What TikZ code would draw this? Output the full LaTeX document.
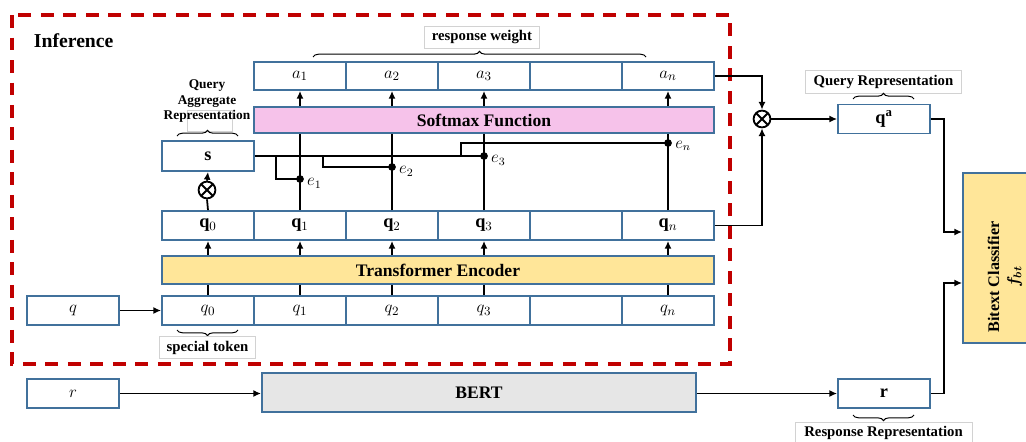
\documentclass[tikz,border=0pt]{standalone}
\usepackage{fontspec}
\setmainfont{Liberation Serif}
\usepackage{bm}
\usetikzlibrary{arrows.meta,decorations.pathreplacing}

\definecolor{cellblue}{HTML}{41719C}
\definecolor{softpink}{HTML}{F6C2EA}
\definecolor{encyellow}{HTML}{FFE699}
\definecolor{bertgray}{HTML}{E6E6E6}
\definecolor{dashred}{HTML}{C00000}

\tikzset{
  cell/.style={draw=cellblue, line width=1.3pt, fill=white, minimum width=2.3cm,
    minimum height=0.725cm, inner sep=0pt, font=\fontsize{13}{15}\selectfont},
  bar/.style={draw=cellblue, line width=1.3pt, inner sep=0pt,
    font=\fontsize{12.5}{15}\selectfont\bfseries},
  wire/.style={line width=1.25pt},
  arr/.style={wire, -{Latex[length=5.5pt,width=5pt]}},
  tag/.style={draw=gray!35, line width=0.6pt, inner sep=0pt,
    font=\fontsize{10.5}{12}\selectfont\bfseries},
  brc/.style={decorate, decoration={brace, amplitude=4pt}, line width=0.7pt},
  dot/.style={circle, fill=black, inner sep=0pt, minimum size=5.5pt},
  elabel/.style={anchor=west, inner sep=1pt, font=\fontsize{12}{14}\selectfont},
  otimes/.style={circle, draw, line width=1.3pt, minimum size=0.42cm, inner sep=0pt,
    path picture={\draw[line width=1.3pt]
      (path picture bounding box.south east) -- (path picture bounding box.north west)
      (path picture bounding box.south west) -- (path picture bounding box.north east);}}
}

\begin{document}
\begin{tikzpicture}[x=0.025cm, y=-0.025cm]
\useasboundingbox (0,0) rectangle (1026,441);

% inference frame
\draw[dashred, line width=2.3pt, dash pattern=on 9pt off 7pt] (12,15) rectangle (730,364);
\node[anchor=west, font=\fontsize{14}{16}\selectfont\bfseries] (inf) at (29,41) {Inference};

% token rows
\foreach \i/\x/\t in {0/208/$q_0$,1/300/$q_1$,2/392/$q_2$,3/484/$q_3$,4/576/{},5/668/$q_n$}
    \node[cell] (qi\i) at (\x,310.5) {\t};
\foreach \i/\x/\t in {0/208/$\mathbf{q}_0$,1/300/$\mathbf{q}_1$,2/392/$\mathbf{q}_2$,3/484/$\mathbf{q}_3$,4/576/{},5/668/$\mathbf{q}_n$}
    \node[cell] (qb\i) at (\x,225.5) {\t};
\foreach \i/\x/\t in {1/300/$a_1$,2/392/$a_2$,3/484/$a_3$,4/576/{},5/668/$a_n$}
    \node[cell, minimum height=0.7cm] (a\i) at (\x,76) {\t};

\node[bar, fill=encyellow, minimum width=13.8cm, minimum height=0.7cm] (enc) at (438,270) {Transformer Encoder};
\node[bar, fill=softpink, minimum width=11.5cm, minimum height=0.65cm] (soft) at (484,120) {Softmax Function};
\node[cell, minimum height=0.75cm] (s) at (208,156) {$\mathbf{s}$};
\node[otimes] (ot1) at (207,190) {};

\node[cell] (q) at (73,310.5) {$q$};
\node[cell] (r) at (73,393.5) {$r$};
\node[bar, fill=bertgray, minimum width=10.85cm, minimum height=0.975cm] (bert) at (479,392.5) {BERT};

\node[otimes] (ot2) at (762,119) {};
\node[cell] (qa) at (884,119) {$\mathbf{q}^{\mathbf{a}}$};
\node[cell] (rb) at (884,393.5) {$\mathbf{r}$};
\node[draw=cellblue, line width=1.3pt, fill=encyellow, minimum width=2.1cm,
    minimum height=4.25cm] (clf) at (1005,258) {};
\node[rotate=90, align=center, font=\fontsize{11.5}{14}\selectfont\bfseries] (clftext)
    at (1005,277) {Bitext Classifier\\$\bm{f_{bt}}$};

% labels with braces
\node[tag, minimum width=2.875cm, minimum height=0.55cm] (rw) at (482,37.5) {response weight};
\draw[brc] (313,57) -- (646,57);
\draw[gray!35, line width=0.6pt] (187,110) rectangle (232,131);
\node[align=center, font=\fontsize{9.5}{11.3}\selectfont\bfseries] (qar) at (207,101)
    {Query\\Aggregate\\Representation};
\draw[brc] (177,136) -- (238,136);
\draw[brc] (238,330) -- (177,330);
\node[tag, minimum width=2.4cm, minimum height=0.55cm] (st) at (207.5,347.5) {special token};
\node[tag, minimum width=3.9cm, minimum height=0.575cm] (qrep) at (883.5,81.5) {Query Representation};
\draw[brc] (853,99) -- (914,99);
\draw[brc] (914,415) -- (853,415);
\node[tag, minimum width=4.425cm, minimum height=0.55cm] (rrep) at (883.5,433) {Response Representation};

% encoder connections
\foreach \i in {0,1,2,3,5} {
    \draw[wire] (qi\i.north) -- (qi\i.north |- enc.south);
    \draw[arr] (qb\i.south |- enc.north) -- (qb\i.south);
}
\draw[wire] (qb0.north) -- (ot1.south);
\draw[arr] (ot1.north) -- (s.south);
\foreach \i in {1,2,3,5} {
    \draw[wire] (qb\i.north) -- (qb\i.north |- soft.south);
    \draw[arr] (a\i.south |- soft.north) -- (a\i.south);
}

% aggregate wiring
\node[dot] (e1) at (300,179) {};
\node[dot] (e2) at (392,167) {};
\node[dot] (e3) at (484,156) {};
\node[dot] (en) at (668,143) {};
\coordinate (b1) at (276,156);
\coordinate (b2) at (323,156);
\coordinate (b4) at (461,156);
\draw[wire] (s.east) -- (e3.center);
\draw[wire] (b1) |- (e1.center);
\draw[wire] (b2) |- (e2.center);
\draw[wire] (b4) |- (en.center);
\node[elabel] at ([xshift=1pt,yshift=-3pt]e1.east) {$e_1$};
\node[elabel] at ([xshift=1pt,yshift=-3pt]e2.east) {$e_2$};
\node[elabel] at ([xshift=1pt,yshift=-3pt]e3.east) {$e_3$};
\node[elabel] at ([xshift=1pt,yshift=-2pt]en.east) {$e_n$};

% inputs and outputs
\draw[arr] (q.east) -- (qi0.west);
\draw[arr] (r.east) -- (bert.west |- r.east);
\draw[arr] (bert.east |- rb.west) -- (rb.west);
\draw[arr] (a5.east) -| (ot2.north);
\draw[arr] (qb5.east) -| (ot2.south);
\draw[arr] (ot2.east) -- (qa.west);
\coordinate (c1) at (clf.west |- 0,232);
\coordinate (c2) at (clf.west |- 0,283);
\draw[arr] (qa.east) -- ++(13,0) |- (c1);
\draw[arr] (rb.east) -- ++(13,0) |- (c2);
\end{tikzpicture}
\end{document}
